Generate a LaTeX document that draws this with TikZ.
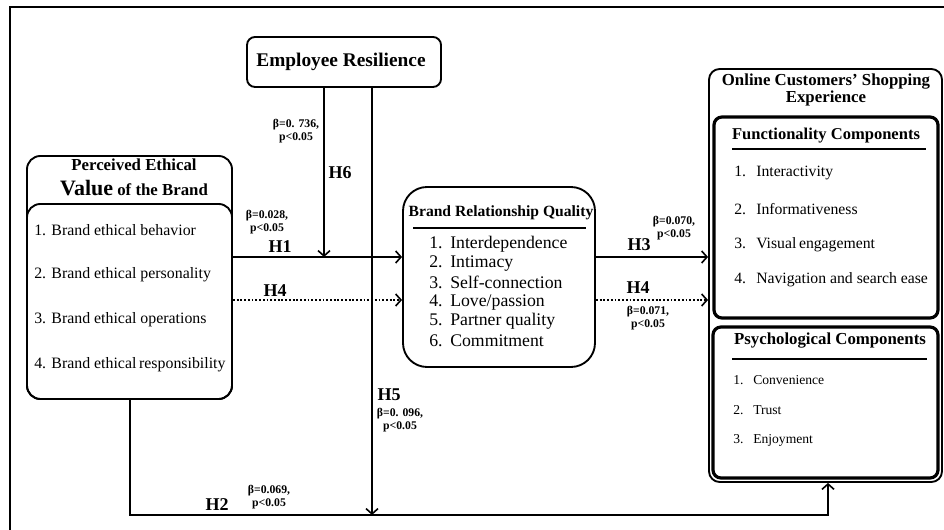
\documentclass[tikz,border=0pt]{standalone}
\usepackage{fontspec}
\setmainfont{Liberation Serif}
\usetikzlibrary{arrows.meta,positioning,fit,calc}
\tikzset{
    box/.style={rectangle, draw, line width=1.4pt, rounded corners=#1, inner sep=0pt},
    box/.default=7pt,
    thickbox/.style={box=#1, line width=2.4pt},
    thickbox/.default=6pt,
    ttl/.style={font=\fontsize{12.6}{14}\selectfont\bfseries, align=center, inner sep=0pt},
    item/.style={font=\fontsize{11.9}{14}\selectfont, anchor=west, inner sep=0pt},
    hyp/.style={font=\fontsize{13.5}{15}\selectfont\bfseries, inner sep=0pt},
    coef/.style={font=\fontsize{8.8}{10}\selectfont\bfseries, align=center, inner sep=0pt},
    arr/.style={-{Straight Barb[length=4pt,width=9pt,line width=1.2pt]}, line width=1.2pt},
    darr/.style={arr, dash pattern=on 1.4pt off 1.4pt},
    rule/.style={line width=1.6pt},
}

\begin{document}
\begin{tikzpicture}[x=0.75pt, y=-0.75pt]
    \clip (0,0) rectangle (944,530);
    % outer frame
    \draw[line width=2.2pt] (10,545) -- (10,7) -- (960,7);

    % boxes
    \node[box=6pt, fit={(247,37) (441,87)}] (empres) {};
    \node[ttl, font=\fontsize{14.5}{16}\selectfont\bfseries] at (341,62) {Employee Resilience};

    \node[box=10pt, fit={(27,156) (232,399)}] (pevout) {};
    \node[box=10pt, fit={(27,204) (232,399)}] (pevin) {};
    \node[ttl] at (134,165) {Perceived Ethical};
    \node[ttl] at (134,188) {{\fontsize{16.5}{18}\selectfont Value} of the Brand};
    \foreach \t [count=\i] in {Brand ethical behavior, Brand ethical personality,
                               Brand ethical operations, Brand ethical\,responsibility}
        \node[item] (pev\i) at (34,{230+45*(\i-1)}) {\i. \t};

    \node[box=18pt, fit={(403,187) (595,367)}] (brq) {};
    \node[ttl, font=\fontsize{11.7}{13}\selectfont\bfseries] at (501,213) {Brand Relationship Quality};
    \draw[rule] (413,228) -- (586,228);
    \foreach \t [count=\i] in {Interdependence, Intimacy, Self-connection,
                               Love/passion, Partner quality, Commitment}
        \node[item, font=\fontsize{13.3}{15}\selectfont] (brq\i) at (429,{244+19.4*(\i-1)})
            {\makebox[15.75pt][l]{\i.}\t};

    \node[box=8pt, fit={(709,69) (942,482)}] (oce) {};
    \node[ttl] at (826,90)
        {Online Customers' Shopping\\[-1.5pt] Experience};

    \node[thickbox, fit={(714,117) (938,318)}] (func) {};
    \node[ttl, font=\fontsize{12.4}{14}\selectfont\bfseries] at (826,136) {Functionality Components};
    \draw[rule] (732,149) -- (926,149);
    \foreach \t [count=\i] in {Interactivity, Informativeness, Visual\,engagement,
                               Navigation and search ease}
        \node[item, font=\fontsize{11.8}{13}\selectfont] (func\i) at (734,{173+35.7*(\i-1)})
            {\makebox[16.5pt][l]{\i.}\t};

    \node[thickbox, fit={(713,327) (938,478)}] (psych) {};
    \node[ttl] at (830,341) {Psychological Components};
    \draw[rule] (732,359) -- (927,359);
    \foreach \t [count=\i] in {Convenience, Trust, Enjoyment}
        \node[item, font=\fontsize{10.2}{12}\selectfont] (psych\i) at (733,{380+30*(\i-1)})
            {\makebox[15pt][l]{\i.}\t};

    % connectors
    \coordinate (h6end) at (324,257);
    \coordinate (h4y) at (0,300);
    \coordinate (h5end) at (372,515);
    \coordinate (h2start) at (130,515);
    \coordinate (h2turn) at (828,515);

    \draw[arr] (pevin.east |- h6end) -- (brq.west |- h6end);
    \draw[arr] (empres.south -| h6end) -- (h6end);
    \draw[darr] (pevin.east |- h4y) -- (brq.west |- h4y);
    \draw[arr] (empres.south -| h5end) -- (h5end);
    \draw[arr] (pevin.south -| h2start) -- (h2start) -- (h2turn) -- (oce.south -| h2turn);
    \draw[arr] (brq.east |- h6end) -- (oce.west |- h6end);
    \draw[darr] (brq.east |- h4y) -- (oce.west |- h4y);

    % labels
    \node[coef] at (296,131) {β=0. 736,\\ p<0.05};
    \node[hyp] at (340,173) {H6};
    \node[coef] at (267,222) {β=0.028,\\ p<0.05};
    \node[hyp] at (280,247) {H1};
    \node[hyp] at (275,291) {H4};
    \node[hyp] at (389,395) {H5};
    \node[coef] at (400,420) {β=0. 096,\\ p<0.05};
    \node[hyp] at (639,245) {H3};
    \node[coef] at (674,228) {β=0.070,\\ p<0.05};
    \node[hyp] at (638,288) {H4};
    \node[coef] at (648,318) {β=0.071,\\ p<0.05};
    \node[hyp] at (217,505) {H2};
    \node[coef] at (269,497) {β=0.069,\\ p<0.05};
\end{tikzpicture}
\end{document}
